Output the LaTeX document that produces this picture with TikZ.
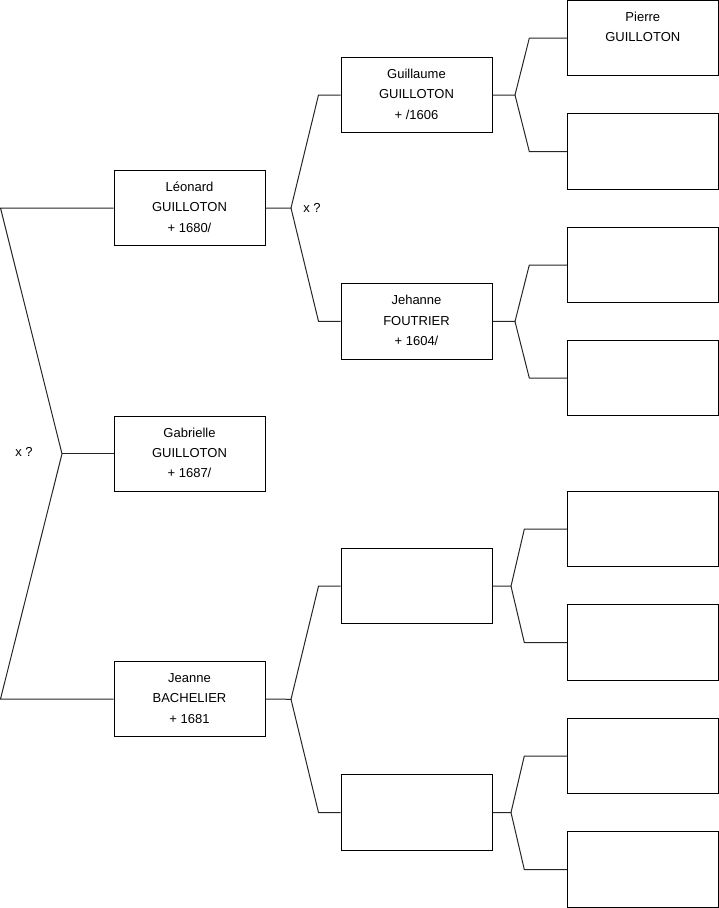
\documentclass[tikz,border=0pt]{standalone}
\usepackage{fontspec}
\setmainfont{Liberation Sans}
\begin{document}
\begin{tikzpicture}[x=1pt,y=-1pt,
  box/.style={draw=black,line width=1pt,minimum width=151pt,minimum height=75.5pt,inner sep=0pt},
  txt/.style={anchor=north,align=center,inner sep=0pt,font=\fontsize{13}{20.3}\selectfont},
  lnk/.style={draw=black!85,line width=1pt},
  lab/.style={inner sep=0pt,font=\fontsize{13}{16}\selectfont}]
\useasboundingbox (0,0) rectangle (719,908);
% generation 1
\node[box] (L)  at (189.5,208) {};
\node[box] (Gb) at (189.5,453.8) {};
\node[box] (Jn) at (189.5,699) {};
% generation 2
\node[box] (G)  at (416.5,95) {};
\node[box] (J)  at (416.5,321.3) {};
\node[box] (E3) at (416.5,586.2) {};
\node[box] (E4) at (416.5,812.5) {};
% generation 3
\node[box] (P)  at (642.8,38.2) {};
\node[box] (F2) at (642.8,151.5) {};
\node[box] (F3) at (642.8,265) {};
\node[box] (F4) at (642.8,378) {};
\node[box] (F5) at (642.8,529.2) {};
\node[box] (F6) at (642.8,642.5) {};
\node[box] (F7) at (642.8,756) {};
\node[box] (F8) at (642.8,869.5) {};
% texts
\newcommand{\stt}{\rule{0pt}{13pt}}
\node[txt] (tL)  at ([yshift=-8.5]L.north)  {\stt Léonard\\GUILLOTON\\+ 1680/};
\node[txt] (tGb) at ([yshift=-8.5]Gb.north) {\stt Gabrielle\\GUILLOTON\\+ 1687/};
\node[txt] (tJn) at ([yshift=-8.5]Jn.north) {\stt Jeanne\\BACHELIER\\+ 1681};
\node[txt] (tG)  at ([yshift=-8.5]G.north)  {\stt Guillaume\\GUILLOTON\\+ /1606};
\node[txt] (tJ)  at ([yshift=-8.5]J.north)  {\stt Jehanne\\FOUTRIER\\+ 1604/};
\node[txt] (tP)  at ([yshift=-8]P.north)    {\stt Pierre\\GUILLOTON};
% marriage labels
\node[lab] (x1) at (24,452) {x ?};
\node[lab] (x2) at (312,207.5) {x ?};
% left bracket
\coordinate (v0) at (62,453.8);
\draw[lnk] (L.west) -- (0.5,208) -- (v0) -- (0.5,699) -- (Jn.west);
\draw[lnk] (v0) -- (Gb.west);
% brackets gen1 -> gen2
\coordinate (vL) at (291,208);
\draw[lnk] (L.east) -- (vL) -- ([xshift=-22]G.west) -- (G.west);
\draw[lnk] (vL) -- ([xshift=-22]J.west) -- (J.west);
\coordinate (vJ) at (291,699.3);
\draw[lnk] (Jn.east) -- (vJ) -- ([xshift=-22]E3.west) -- (E3.west);
\draw[lnk] (vJ) -- ([xshift=-22]E4.west) -- (E4.west);
% brackets gen2 -> gen3
\coordinate (vG) at (515,95);
\draw[lnk] (G.east) -- (vG) -- ([xshift=-37.5]P.west) -- (P.west);
\draw[lnk] (vG) -- ([xshift=-37.5]F2.west) -- (F2.west);
\coordinate (vJh) at (515,321.5);
\draw[lnk] (J.east) -- (vJh) -- ([xshift=-37.5]F3.west) -- (F3.west);
\draw[lnk] (vJh) -- ([xshift=-37.5]F4.west) -- (F4.west);
\coordinate (v3) at (511,586.2);
\draw[lnk] (E3.east) -- (v3) -- ([xshift=-42.5]F5.west) -- (F5.west);
\draw[lnk] (v3) -- ([xshift=-42.5]F6.west) -- (F6.west);
\coordinate (v4) at (511,812.5);
\draw[lnk] (E4.east) -- (v4) -- ([xshift=-42.5]F7.west) -- (F7.west);
\draw[lnk] (v4) -- ([xshift=-42.5]F8.west) -- (F8.west);
\end{tikzpicture}
\end{document}
